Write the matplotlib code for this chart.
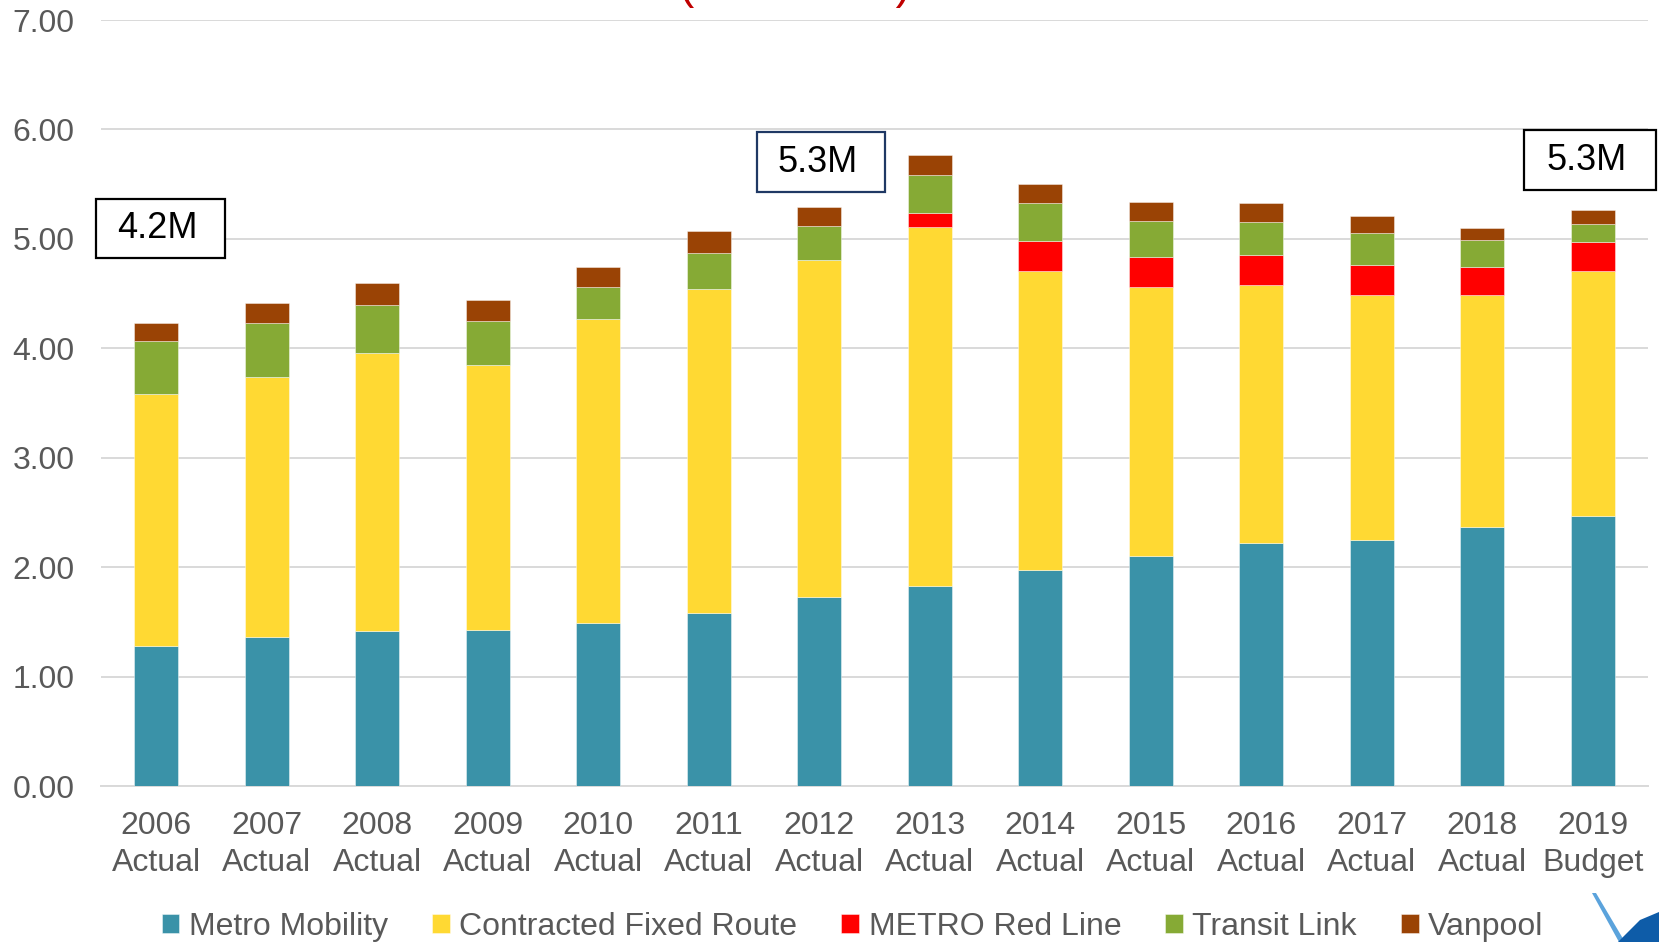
import matplotlib
matplotlib.use("Agg")
import matplotlib.pyplot as plt
import numpy as np
from matplotlib.patches import Rectangle, Polygon

plt.rcParams['font.family'] = ['Liberation Sans', 'DejaVu Sans']

categories = ['2006\nActual', '2007\nActual', '2008\nActual', '2009\nActual', '2010\nActual',
              '2011\nActual', '2012\nActual', '2013\nActual', '2014\nActual', '2015\nActual',
              '2016\nActual', '2017\nActual', '2018\nActual', '2019\nBudget']
metro_mobility = [1.28, 1.36, 1.42, 1.43, 1.49, 1.58, 1.73, 1.83, 1.97, 2.10, 2.22, 2.25, 2.37, 2.47]
contracted_fixed = [2.30, 2.38, 2.54, 2.42, 2.78, 2.96, 3.08, 3.28, 2.74, 2.46, 2.36, 2.24, 2.12, 2.24]
red_line = [0, 0, 0, 0, 0, 0, 0, 0.13, 0.27, 0.27, 0.27, 0.27, 0.25, 0.26]
transit_link = [0.49, 0.49, 0.44, 0.40, 0.29, 0.33, 0.31, 0.345, 0.35, 0.33, 0.305, 0.29, 0.25, 0.17]
vanpool = [0.16, 0.18, 0.20, 0.19, 0.18, 0.20, 0.17, 0.185, 0.17, 0.175, 0.175, 0.16, 0.11, 0.12]

series_names = ['Metro Mobility', 'Contracted Fixed Route', 'METRO Red Line', 'Transit Link', 'Vanpool']
colors = ['#3A92A8', '#FFD933', '#FF0000', '#86AA35', '#9A4305']
callouts = ['4.2M', '5.3M', '5.3M']
yticks = [0, 1, 2, 3, 4, 5, 6, 7]

W, H = 1659, 942
fig = plt.figure(figsize=(W / 100, H / 100), dpi=100)
ax = fig.add_axes([101 / W, 1 - 786 / H, (1648 - 101) / W, (786 - 20) / H])

x = np.arange(len(categories))
bottom = np.zeros(len(categories))
for name, vals, c in zip(series_names,
                         [metro_mobility, contracted_fixed, red_line, transit_link, vanpool],
                         colors):
    vals = np.array(vals)
    ax.bar(x, vals, width=0.40, bottom=bottom, color=c, label=name,
           edgecolor=(1, 1, 1, 0.5), linewidth=0.6, zorder=3)
    bottom += vals

ax.set_xlim(-0.5, len(categories) - 0.5)
ax.set_ylim(0, 7)
ax.set_yticks(yticks)
ax.set_yticklabels([f"{v:.2f}" for v in yticks])
ax.set_xticks(x)
ax.set_xticklabels(categories, linespacing=1.32)
ax.tick_params(axis='both', length=0, labelsize=23, colors='#595959')
ax.tick_params(axis='x', pad=18)
ax.tick_params(axis='y', pad=19)
ax.yaxis.grid(True, color='#D9D9D9', linewidth=1.4, zorder=0)
ax.set_axisbelow(True)
for s in ['top', 'right', 'left']:
    ax.spines[s].set_visible(False)
ax.spines['bottom'].set_color('#D9D9D9')
ax.spines['bottom'].set_linewidth(1.4)

leg = fig.legend(loc='center', bbox_to_anchor=(0.514, 0.016), ncol=5, frameon=False,
                 fontsize=23, handlelength=0.55, handleheight=0.55, handletextpad=0.3,
                 columnspacing=1.38, labelcolor='#595959')

# callout boxes (pixel boxes: x0, x1, y0, y1 from top)
boxes = [(96, 225, 199, 258, 'black'), (757, 885, 132, 192, '#1F3864'), (1524, 1656, 130, 190, 'black')]
for (x0, x1, y0, y1, ec), txt in zip(boxes, callouts):
    fig.add_artist(Rectangle((x0 / W, 1 - y1 / H), (x1 - x0) / W, (y1 - y0) / H,
                             transform=fig.transFigure, facecolor='white', edgecolor=ec,
                             linewidth=1.6, zorder=5))
    fig.text((x0 + x1) / 2 / W - 3 / W, 1 - (y0 + y1) / 2 / H, txt, fontsize=26,
             ha='center', va='center', color='black', zorder=6)

# clipped red title at top edge (only the descending parts show, as in the reference)
fig.text(795 / W, 1 + 2.5 / H, '(in millions)', color='#C00000', fontsize=33,
         ha='center', va='baseline')

# small logo swoosh bottom-right
fig.add_artist(Polygon([(1592 / W, 1 - 893 / H), (1596 / W, 1 - 893 / H), (1625 / W, 0.0), (1619 / W, 0.0)],
                       closed=True, transform=fig.transFigure, facecolor='#5BA3DC', edgecolor='none'))
fig.add_artist(Polygon([(1618 / W, 0.0), (1640 / W, 1 - 920 / H), (1659 / W, 1 - 912 / H), (1659 / W, 0.0)],
                       closed=True, transform=fig.transFigure, facecolor='#0E5CA8', edgecolor='none'))

fig.savefig('out.png', dpi=100)
